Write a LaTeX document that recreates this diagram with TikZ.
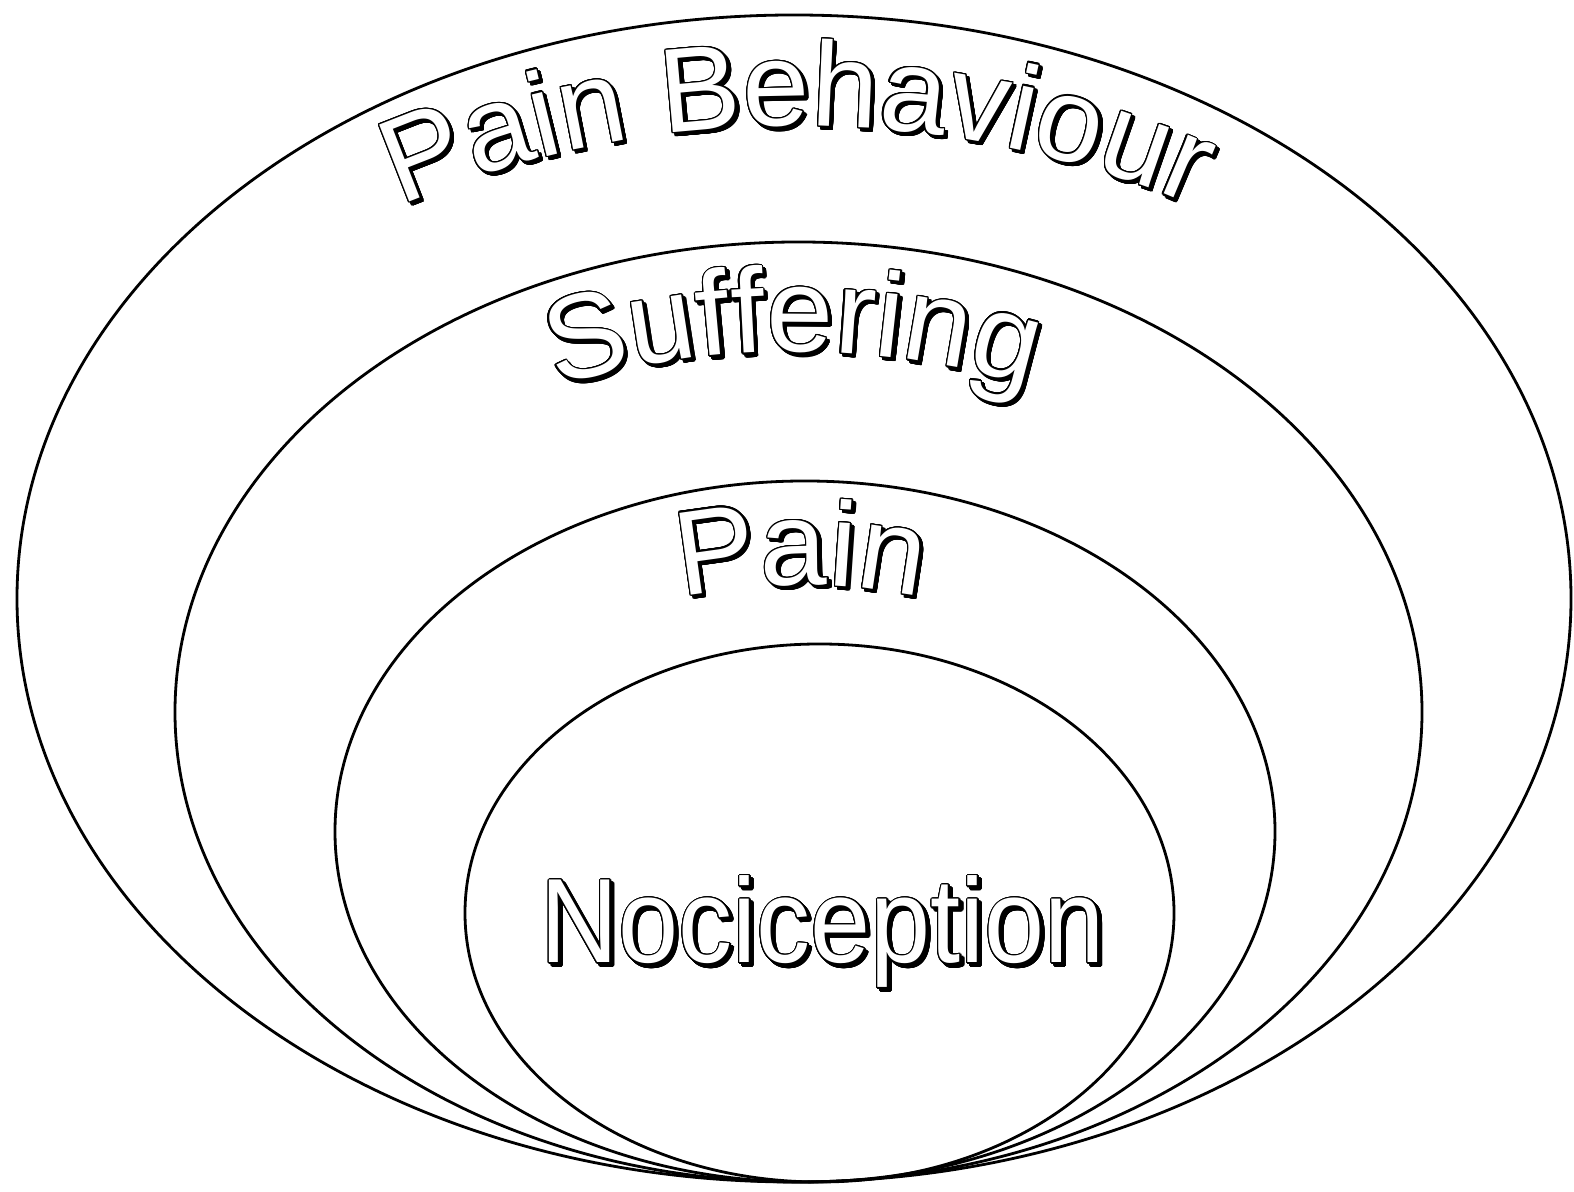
\documentclass[tikz,border=0pt]{standalone}
\usepackage{fontspec}
\setmainfont{Liberation Sans}
\newfontfamily\narrowfamily[FakeStretch=0.9]{Liberation Sans}
\usepackage[copies]{contour}
\contourlength{0.65pt}
\contournumber{24}
\usetikzlibrary{decorations.text}
\newcommand\artfont{\fontsize{60}{60}\selectfont}
\newcommand\narrowfont{\narrowfamily\fontsize{60}{60}\selectfont}
\newcommand\artchar[1]{\contour{black}{\textcolor{white}{#1}}}
\newcommand\shadechar[1]{\contour{black}{#1}}

\begin{document}
\begin{tikzpicture}[x=.5pt,y=.5pt,
    ring/.style={draw,line width=1.4pt},
    arctext/.style n args={2}{decorate,decoration={text effects along path,text={#1},text align=center,
      text effects/.cd,text along path,character command=#2,every character/.style={font=\artfont}}}]
  \useasboundingbox (0,0) rectangle (1574,1192);
  % nested rings, all touching at the bottom
  \draw[ring] (794,593.5) ellipse[x radius=777,y radius=583.5];
  \draw[ring] (798.5,480) ellipse[x radius=623.5,y radius=470];
  \draw[ring] (805,360.5) ellipse[x radius=470,y radius=350.5];
  \draw[ring] (819.5,279) ellipse[x radius=354.5,y radius=269];
  % arched labels: shadow first, outline on top
  \path[arctext={Pain{~}Behaviour}{\shadechar},shift={(3,-3)}] (797,593.5) ++(150:709 and 472.5)
    arc[start angle=150,end angle=30,x radius=709,y radius=472.5];
  \path[arctext={Pain{~}Behaviour}{\artchar}] (797,593.5) ++(150:709 and 472.5)
    arc[start angle=150,end angle=30,x radius=709,y radius=472.5];
  \path[arctext={Suffering}{\shadechar},shift={(3,-3)}] (793,480) ++(150:551 and 360)
    arc[start angle=150,end angle=30,x radius=551,y radius=360];
  \path[arctext={Suffering}{\artchar}] (793,480) ++(150:551 and 360)
    arc[start angle=150,end angle=30,x radius=551,y radius=360];
  \path[arctext={Pain}{\shadechar},shift={(3,-3)}] (801,360.5) ++(150:380 and 246.5)
    arc[start angle=150,end angle=30,x radius=380,y radius=246.5];
  \path[arctext={Pain}{\artchar}] (801,360.5) ++(150:380 and 246.5)
    arc[start angle=150,end angle=30,x radius=380,y radius=246.5];
  % straight label in the core
  \node[font=\narrowfont,anchor=base,inner sep=0pt] (nocishade) at (826,226) {\shadechar{Nociception}};
  \node[font=\narrowfont,anchor=base,inner sep=0pt] (noci) at (823,229) {\artchar{Nociception}};
\end{tikzpicture}
\end{document}
